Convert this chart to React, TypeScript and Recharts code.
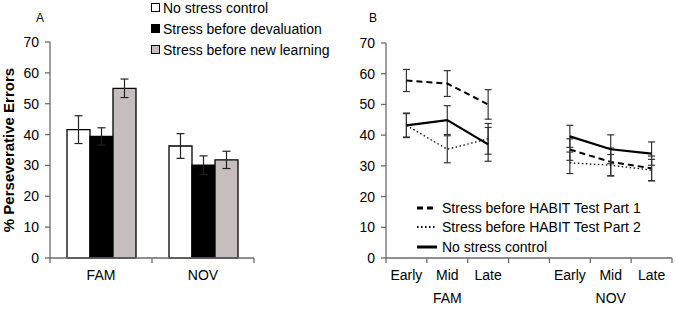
import { BarChart, Bar, LineChart, Line, XAxis, YAxis, ErrorBar, Legend } from "recharts";

const FONT = "'Liberation Sans', Arial, sans-serif";

// Panel A: bars
const groupsA = ["FAM", "NOV"];
const noStress = [41.6, 36.3];
const noStressErr = [4.5, 4.0];
const stressDeval = [39.4, 30.1];
const stressDevalErr = [2.8, 3.0];
const stressNew = [55.0, 31.8];
const stressNewErr = [3.0, 2.8];

const barSeries = [
  { key: "noStress", name: "No stress control", fill: "#ffffff" },
  { key: "stressDeval", name: "Stress before devaluation", fill: "#000000" },
  { key: "stressNew", name: "Stress before new learning", fill: "#c6bebe" },
];

// Panel B: lines, 7 slots with a blank between FAM and NOV
const phases = ["Early", "Mid", "Late", "", "Early", "Mid", "Late"];
const phaseGroups = ["", "FAM", "", "", "", "NOV", ""];
const part1 = [57.8, 56.8, 50.0, null, 35.3, 31.3, 29.2];
const part1Err = [3.6, 4.2, 4.8, null, 3.5, 4.5, 4.0];
const part2 = [43.2, 35.4, 38.8, null, 31.0, 30.2, 28.6];
const part2Err = [3.8, 4.4, 5.0, null, 3.5, 3.5, 3.5];
const control = [43.2, 44.9, 37.0, null, 39.6, 35.4, 34.0];
const controlErr = [4.0, 4.7, 5.5, null, 3.6, 4.7, 3.8];

const lineSeries = [
  { key: "part1", name: "Stress before HABIT Test Part 1", dash: "6 4", width: 2 },
  { key: "part2", name: "Stress before HABIT Test Part 2", dash: "1.5 2.5", width: 1.3 },
  { key: "control", name: "No stress control", dash: undefined, width: 2.2 },
];

const yTicks = [0, 10, 20, 30, 40, 50, 60, 70];

const dataA = groupsA.map((g, i) => ({
  group: g,
  noStress: noStress[i],
  noStressErr: noStressErr[i],
  stressDeval: stressDeval[i],
  stressDevalErr: stressDevalErr[i],
  stressNew: stressNew[i],
  stressNewErr: stressNewErr[i],
}));

const dataB = phases.map((p, i) => ({
  phase: p + "#" + i,
  label: p,
  group: phaseGroups[i],
  part1: part1[i],
  part1Err: part1Err[i],
  part2: part2[i],
  part2Err: part2Err[i],
  control: control[i],
  controlErr: controlErr[i],
}));

const AXIS = "#6b6b6b";

// tick marks sit on category boundaries, labels in the middle
function BandTick(props: any) {
  const { x, y, payload, index, visibleTicksCount, extra } = props;
  const half = payload.offset ?? 0;
  const isLast = index === visibleTicksCount - 1;
  const label = extra ? dataB[index].label : payload.value;
  const group = extra ? dataB[index].group : "";
  return (
    <g>
      <line x1={x - half} x2={x - half} y1={y} y2={y + 5} stroke={AXIS} strokeWidth={1.3} />
      {isLast && <line x1={x + half} x2={x + half} y1={y} y2={y + 5} stroke={AXIS} strokeWidth={1.3} />}
      <text x={x} y={y + 22} textAnchor="middle" fontSize={14} fontFamily={FONT} fill="#000">
        {label}
      </text>
      {group && (
        <text x={x} y={y + 45} textAnchor="middle" fontSize={14} fontFamily={FONT} fill="#000">
          {group}
        </text>
      )}
    </g>
  );
}

const legendA = () => (
  <div style={{ fontFamily: FONT, fontSize: 14, color: "#000" }}>
    {barSeries.map((s) => (
      <div key={s.key} style={{ display: "flex", alignItems: "center", height: 21 }}>
        <span
          style={{ width: 7, height: 7, border: "1px solid #000", background: s.fill, marginRight: 3 }}
        />
        {s.name}
      </div>
    ))}
  </div>
);

const legendB = () => (
  <div style={{ fontFamily: FONT, fontSize: 14, color: "#000" }}>
    {lineSeries.map((s) => (
      <div key={s.key} style={{ display: "flex", alignItems: "center", height: 19.5 }}>
        <svg width={20} height={6} style={{ marginRight: 5 }}>
          <line x1={0} x2={20} y1={3} y2={3} stroke="#000" strokeWidth={s.width + 0.8} strokeDasharray={s.dash} />
        </svg>
        {s.name}
      </div>
    ))}
  </div>
);

const tickStyle = { fill: "#000", fontSize: 14, fontFamily: FONT };

export default function App() {
  return (
    <div style={{ position: "absolute", left: 0, top: 0, width: 676, height: 315, background: "#fff" }}>
      <div style={{ position: "absolute", left: 36, top: 11, fontFamily: FONT, fontSize: 12 }}>A</div>
      <div style={{ position: "absolute", left: 369, top: 11, fontFamily: FONT, fontSize: 12 }}>B</div>

      <div style={{ position: "absolute", left: 0, top: 0 }}>
        <BarChart
          width={340}
          height={315}
          data={dataA}
          margin={{ top: 42, right: 86, bottom: 0, left: 0 }}
          barCategoryGap={17}
          barGap={0}
        >
          <XAxis
            dataKey="group"
            height={57}
            tickLine={false}
            tickSize={0}
            tickMargin={0}
            interval={0}
            stroke={AXIS}
            strokeWidth={1.3}
            tick={<BandTick />}
          />
          <YAxis
            width={50}
            domain={[0, 70]}
            ticks={yTicks}
            tickSize={5}
            tickMargin={6}
            stroke={AXIS}
            strokeWidth={1.3}
            tick={tickStyle}
            label={{
              value: "% Perseverative Errors",
              angle: -90,
              position: "insideLeft",
              offset: 9,
              style: { textAnchor: "middle", fontWeight: 700, fontSize: 15, fontFamily: FONT, fill: "#000" },
            }}
          />
          <Legend
            layout="vertical"
            align="center"
            verticalAlign="middle"
            wrapperStyle={{ top: -3, left: 151, width: 190 }}
            content={legendA}
          />
          {barSeries.map((s) => (
            <Bar key={s.key} dataKey={s.key} name={s.name} fill={s.fill} stroke="#000" strokeWidth={1.3} isAnimationActive={false}>
              <ErrorBar dataKey={s.key + "Err"} width={4} stroke="#222" strokeWidth={1.2} />
            </Bar>
          ))}
        </BarChart>
      </div>

      <div style={{ position: "absolute", left: 340, top: 0 }}>
        <LineChart width={336} height={315} data={dataB} margin={{ top: 43, right: 4, bottom: 0, left: 0 }}>
          <XAxis
            dataKey="phase"
            scale="band"
            height={57}
            tickLine={false}
            tickSize={0}
            tickMargin={0}
            interval={0}
            stroke={AXIS}
            strokeWidth={1.3}
            tick={<BandTick extra />}
          />
          <YAxis
            width={46}
            domain={[0, 70]}
            ticks={yTicks}
            tickSize={5}
            tickMargin={6}
            stroke={AXIS}
            strokeWidth={1.3}
            tick={tickStyle}
          />
          <Legend
            layout="vertical"
            align="center"
            verticalAlign="middle"
            wrapperStyle={{ top: 198, left: 77, width: 250 }}
            content={legendB}
          />
          {lineSeries.map((s) => (
            <Line
              key={s.key}
              dataKey={s.key}
              name={s.name}
              stroke="#000"
              strokeWidth={s.width}
              strokeDasharray={s.dash}
              dot={false}
              activeDot={false}
              isAnimationActive={false}
            >
              <ErrorBar dataKey={s.key + "Err"} width={3.5} stroke="#333" strokeWidth={1.2} />
            </Line>
          ))}
        </LineChart>
      </div>
    </div>
  );
}
